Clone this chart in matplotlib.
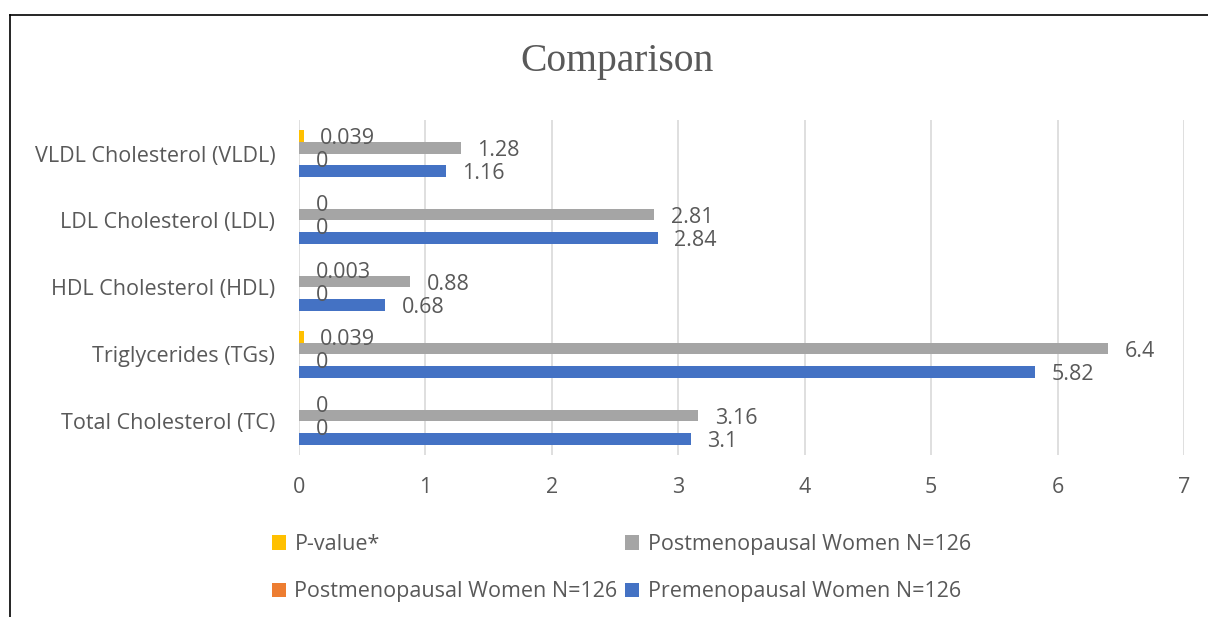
import numpy as np
from matplotlib import pyplot as plt
from matplotlib.patches import Patch
from matplotlib.lines import Line2D

categories = ['Total Cholesterol (TC)', 'Triglycerides (TGs)', 'HDL Cholesterol (HDL)',
              'LDL Cholesterol (LDL)', 'VLDL Cholesterol (VLDL)']
pre_women = [3.1, 5.82, 0.68, 2.84, 1.16]
post_women_orange = [0, 0, 0, 0, 0]
post_women_gray = [3.16, 6.4, 0.88, 2.81, 1.28]
p_values = [0, 0.039, 0.003, 0, 0.039]

series = [
    ('Premenopausal Women N=126', pre_women, '#4472C4'),
    ('Postmenopausal Women N=126', post_women_orange, '#ED7D31'),
    ('Postmenopausal Women N=126', post_women_gray, '#A5A5A5'),
    ('P-value*', p_values, '#FFC000'),
]

TXT = '#595959'
plt.rcParams['font.family'] = ['Open Sans', 'DejaVu Sans']

fig = plt.figure(figsize=(12.08, 6.17), dpi=100)
ax = fig.add_axes([0.2475, 0.2626, 0.7326, 0.5429])

y = np.arange(len(categories))
h = 0.172
offsets = [-1.5 * h, -0.5 * h, 0.5 * h, 1.5 * h]
handles = {}
for (name, vals, col), off in zip(series, offsets):
    ax.barh(y + off, vals, height=h, color=col, label=name)
    handles[col] = Patch(facecolor=col, label=name)
    for yy, v in zip(y + off, vals):
        ax.text(v + 0.13, yy - 0.04, f'{v:g}', ha='left', va='center',
                fontsize=15.5, color=TXT)

ax.set_xlim(0, 7)
ax.set_ylim(-0.5, 4.5)
ax.set_xticks(range(8))
ax.set_yticks(y)
ax.set_yticklabels(categories)
ax.tick_params(length=0, labelsize=15.5, colors=TXT)
ax.tick_params(axis='y', pad=17)
ax.tick_params(axis='x', pad=16)
ax.grid(axis='x', color='#D9D9D9', linewidth=1.2)
ax.set_axisbelow(True)
for s in ax.spines.values():
    s.set_visible(False)

fig.text(0.511, 0.9, 'Comparison', ha='center', va='center', fontsize=28.5,
         family='Liberation Serif', color=TXT)

order = ['#FFC000', '#ED7D31', '#A5A5A5', '#4472C4']
leg = fig.legend(handles=[handles[c] for c in order], ncol=2, loc='center left',
                 bbox_to_anchor=(0.209, 0.079), frameon=False, fontsize=15.5,
                 handlelength=0.65, handleheight=0.65, handletextpad=0.4,
                 columnspacing=0.35, labelspacing=1.22, labelcolor=TXT)

# frame lines on top and left like the source screenshot
fig.add_artist(Line2D([0.0083, 0.0083], [0, 0.975], color='black', lw=1.2))
fig.add_artist(Line2D([0.0083, 1], [0.975, 0.975], color='black', lw=1.2))

fig.savefig('out.png', dpi=100)
